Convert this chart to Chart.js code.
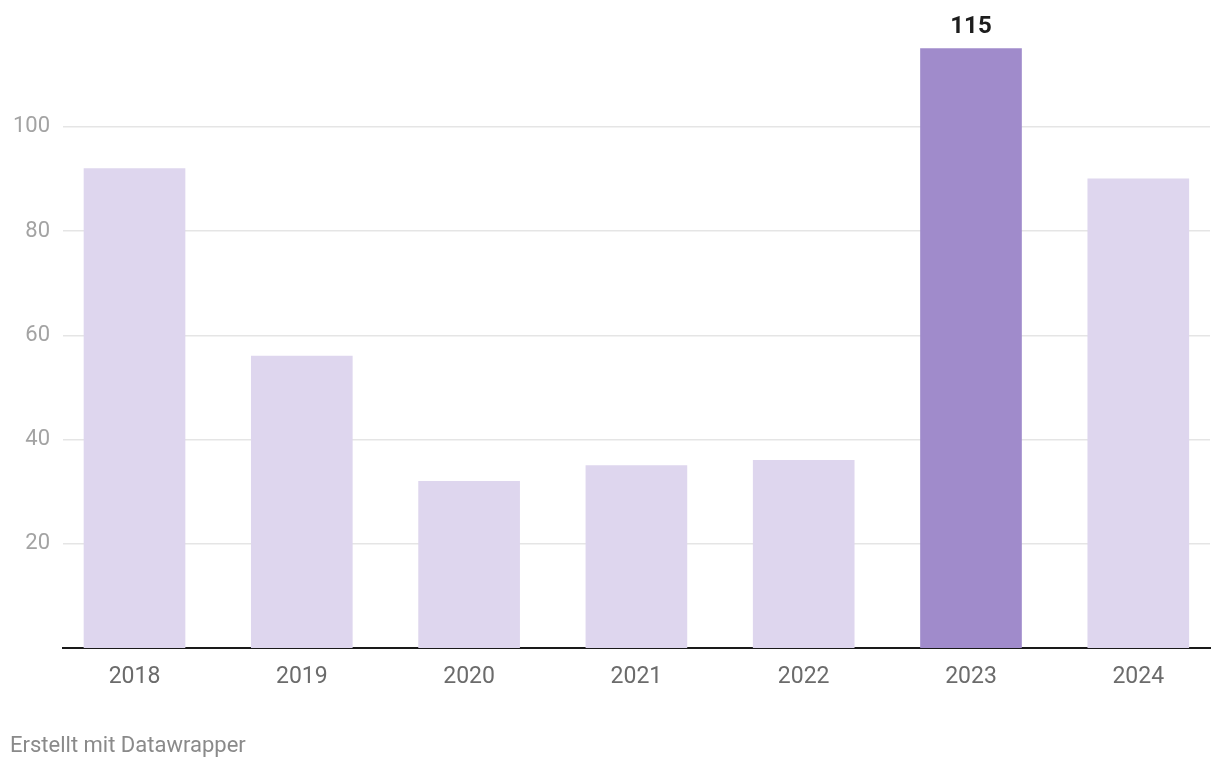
<!DOCTYPE html>
<html>
<head>
<meta charset="utf-8">
<script src="https://cdn.jsdelivr.net/npm/chart.js@4"></script>
<style>
  body { margin: 0; background: #fff; overflow: hidden; }
  #wrap { position: relative; width: 1220px; height: 770px; }
  #note {
    position: absolute; left: 10px; top: 732px;
    font: 22px Roboto, sans-serif; color: #8a8a8a;
  }
</style>
</head>
<body>
<div id="wrap">
  <canvas id="chart" width="1220" height="770"></canvas>
  <div id="note">Erstellt mit Datawrapper</div>
</div>
<script>
const years = ["2018", "2019", "2020", "2021", "2022", "2023", "2024"];
const values = [92, 56, 32, 35, 36, 115, 90];
const highlightYear = "2023";
const yTicks = [20, 40, 60, 80, 100];

const lightColor = "#ded6ee";
const darkColor = "#a08bcb";

const highlightLabel = {
  id: "highlightLabel",
  afterDatasetsDraw(chart) {
    const ctx = chart.ctx;
    const idx = years.indexOf(highlightYear);
    const bar = chart.getDatasetMeta(0).data[idx];
    ctx.save();
    ctx.font = "bold 24px Roboto, sans-serif";
    ctx.fillStyle = "#1d1d1d";
    ctx.textAlign = "center";
    ctx.textBaseline = "alphabetic";
    ctx.fillText(String(values[idx]), bar.x, bar.y - 16);
    ctx.restore();
  }
};

new Chart(document.getElementById("chart"), {
  type: "bar",
  data: {
    datasets: [{
      data: values.map((v, i) => ({ x: i, y: v })),
      backgroundColor: years.map(y => y === highlightYear ? darkColor : lightColor),
      barThickness: 101,
    }]
  },
  options: {
    responsive: false,
    animation: false,
    layout: { padding: { top: 18, right: 10, left: 0, bottom: 0 } },
    plugins: { legend: { display: false }, tooltip: { enabled: false } },
    scales: {
      x: {
        type: "linear",
        offset: false,
        min: -0.4274,
        max: 6.4286,
        afterBuildTicks: (scale) => { scale.ticks = years.map((_, i) => ({ value: i })); },
        afterFit: (scale) => { scale.height = 122; },
        grid: { display: false, offset: false },
        border: { display: true, color: "#1a1a1a", width: 2 },
        ticks: {
          callback: (v) => years[v],
          color: "#6b6b6b",
          font: { family: "Roboto", size: 23 },
          padding: 7,
          maxRotation: 0,
        }
      },
      y: {
        min: 0,
        max: 119.3,
        afterBuildTicks: (scale) => { scale.ticks = yTicks.map(v => ({ value: v })); },
        afterFit: (scale) => { scale.width = 63; },
        grid: { color: "#e5e5e5", lineWidth: 1.5, drawTicks: false },
        border: { display: false },
        ticks: {
          color: "#a3a3a3",
          font: { family: "Roboto", size: 22 },
          padding: 13,
        }
      }
    }
  },
  plugins: [highlightLabel]
});
</script>
</body>
</html>
